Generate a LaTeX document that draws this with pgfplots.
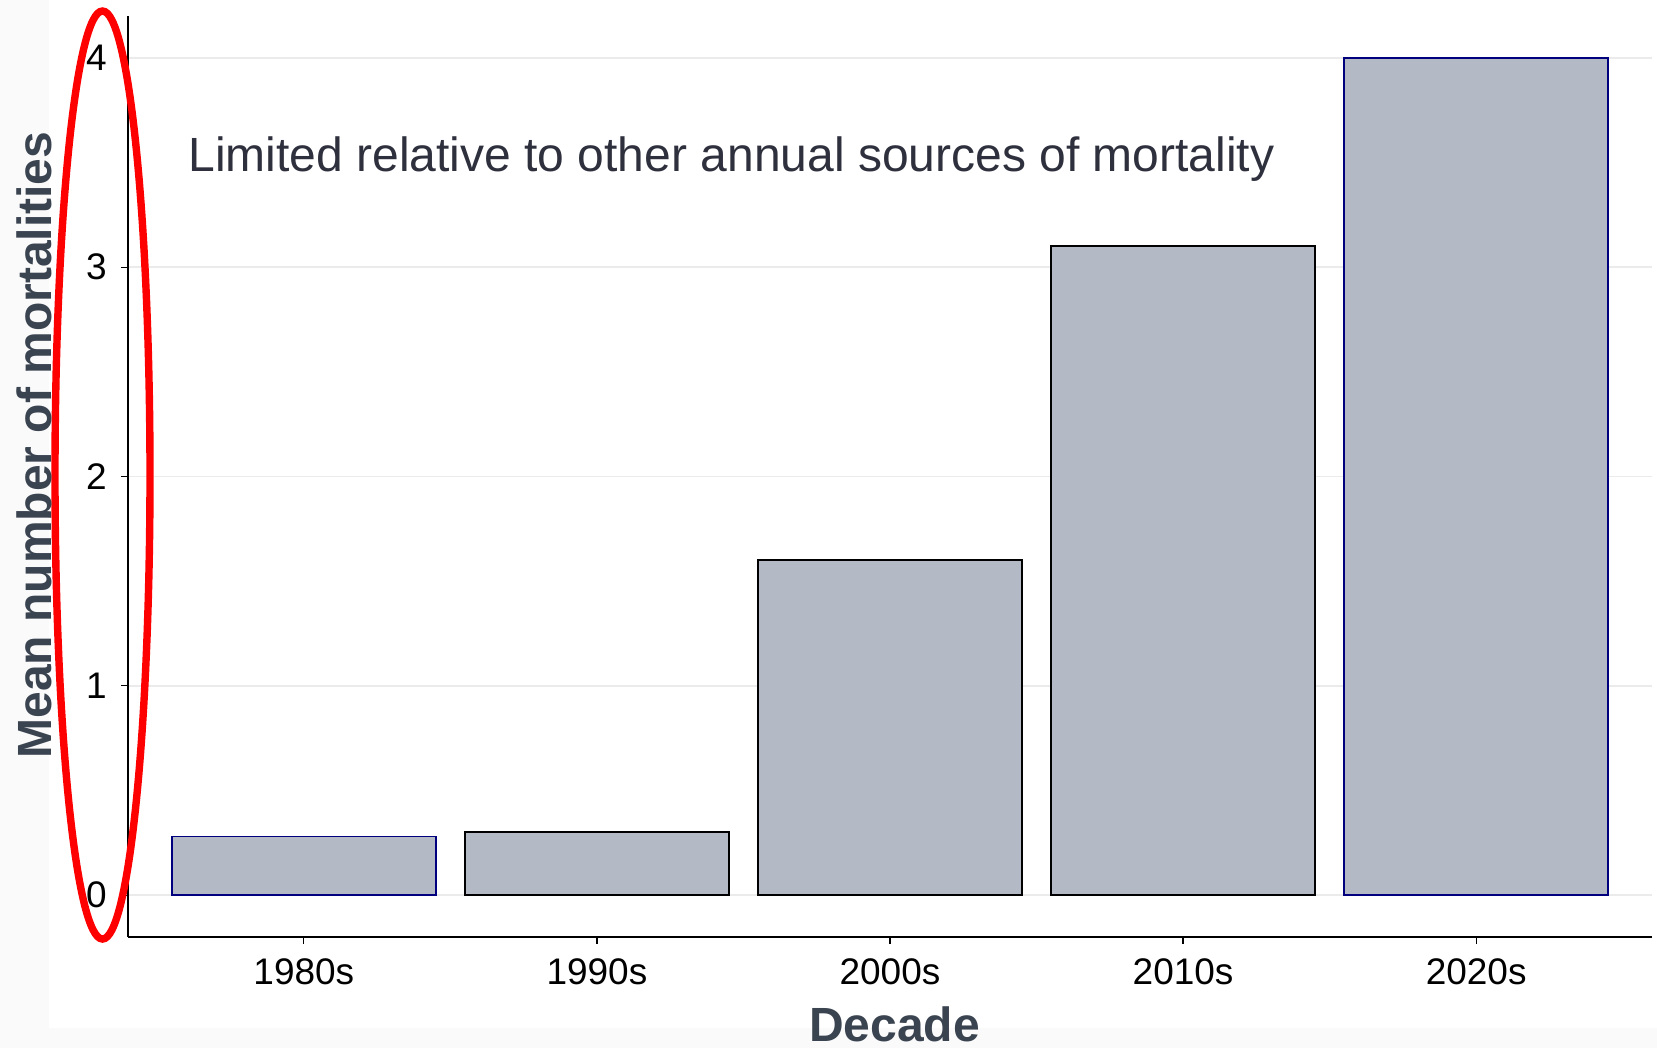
\documentclass[border=0pt]{standalone}
\usepackage{pgfplots}
\pgfplotsset{compat=1.18}
\usepackage{fontspec}
\setmainfont{Liberation Sans}

\definecolor{barfill}{HTML}{B3BAC6}
\definecolor{navyedge}{HTML}{00007F}
\definecolor{labelcol}{HTML}{3A4350}
\definecolor{notecol}{HTML}{2E303D}
\definecolor{gridcol}{HTML}{EBEBEB}
\definecolor{outerbg}{HTML}{FAFAFA}

\begin{document}
\begin{tikzpicture}
% page and panel background
\fill[outerbg] (0,0) rectangle (828.5pt,524pt);
\fill[white] (24.5pt,10pt) rectangle (828.5pt,524pt);

\begin{axis}[
    at={(64pt,55.5pt)}, anchor=south west,
    scale only axis,
    width=762pt, height=460.5pt,
    xmin=-0.6, xmax=4.6,
    ymin=-0.2, ymax=4.2,
    clip=false,
    axis x line*=bottom, axis y line*=left,
    axis line style={black, line width=0.6pt, -},
    ybar, bar width=0.9, bar shift=0pt,
    xtick={0,1,2,3,4},
    xticklabels={1980s,1990s,2000s,2010s,2020s},
    ytick={0,1,2,3,4},
    tick align=outside,
    major tick length=3.5pt,
    tick style={black, line width=0.6pt},
    ymajorgrids=true,
    grid style={gridcol, line width=0.7pt},
    /pgf/number format/assume math mode=true,
    ticklabel style={font=\fontsize{18.5}{18.5}\selectfont, black},
    yticklabel style={inner sep=0pt, anchor=east, xshift=-7pt},
    xticklabel style={inner sep=0pt, anchor=north, yshift=-7pt},
    xlabel={Decade},
    ylabel={Mean number of mortalities},
    label style={font=\bfseries\fontsize{24}{24}\selectfont, text=labelcol},
    xlabel style={at={(axis description cs:0.503,-0.114)}, anchor=base, inner sep=0pt},
    ylabel style={at={(axis description cs:-0.0499,0.534)}, anchor=base, inner sep=0pt},
]

\addplot[fill=barfill, draw=navyedge, line width=0.9pt]
    coordinates {(0,0.28) (4,4.0)};
\addplot[fill=barfill, draw=black, line width=0.9pt]
    coordinates {(1,0.30) (2,1.6) (3,3.1)};

\node[anchor=base west, inner sep=0pt, text=notecol,
      font=\fontsize{24}{24}\selectfont]
    at (axis cs:-0.395,3.459) {Limited relative to other annual sources of mortality};

\draw[red, line width=3.7pt] (axis cs:-0.687,2.007) ellipse [x radius=23.75pt, y radius=232pt];
\end{axis}
\end{tikzpicture}
\end{document}
